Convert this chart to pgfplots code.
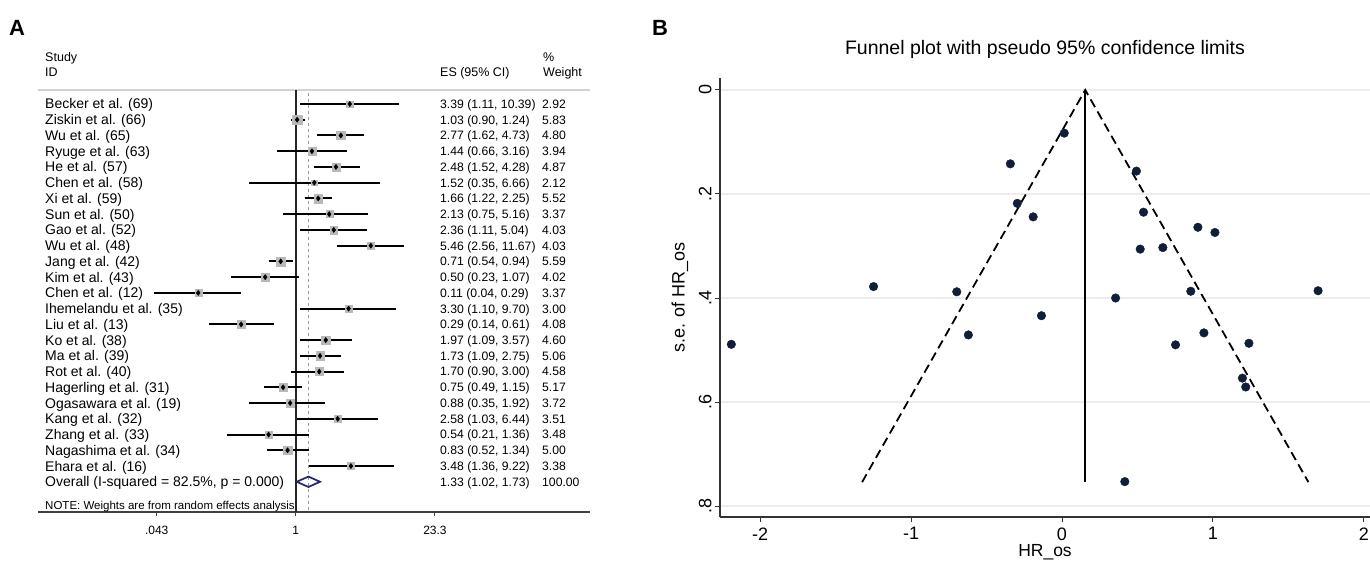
\documentclass[border=0pt]{standalone}
\usepackage{fontspec}
\setmainfont{Liberation Sans}
\usepackage{pgfplots}
\pgfplotsset{compat=1.18}
\usepackage{pgfplotstable}

\definecolor{dotnavy}{RGB}{16,30,58}
\definecolor{diam}{RGB}{35,35,110}

\newcommand\fs[1]{\fontsize{#1}{#1}\selectfont}

% forest plot: row, HR, CI, weight
\pgfplotstableread{
y hr lo hi w
25 3.39 1.11 10.39 2.92
24 1.03 0.90 1.24 5.83
23 2.77 1.62 4.73 4.80
22 1.44 0.66 3.16 3.94
21 2.48 1.52 4.28 4.87
20 1.52 0.35 6.66 2.12
19 1.66 1.22 2.25 5.52
18 2.13 0.75 5.16 3.37
17 2.36 1.11 5.04 4.03
16 5.46 2.56 11.67 4.03
15 0.71 0.54 0.94 5.59
14 0.50 0.23 1.07 4.02
13 0.11 0.04 0.29 3.37
12 3.30 1.10 9.70 3.00
11 0.29 0.14 0.61 4.08
10 1.97 1.09 3.57 4.60
9 1.73 1.09 2.75 5.06
8 1.70 0.90 3.00 4.58
7 0.75 0.49 1.15 5.17
6 0.88 0.35 1.92 3.72
5 2.58 1.03 6.44 3.51
4 0.54 0.21 1.36 3.48
3 0.83 0.52 1.34 5.00
2 3.48 1.36 9.22 3.38
}\forest

% funnel plot: log HR, s.e.
\pgfplotstableread{
es se
0.015 0.083
-0.342 0.142
0.493 0.156
-0.296 0.218
-0.191 0.244
0.540 0.235
0.900 0.264
1.013 0.274
0.518 0.306
0.668 0.303
-1.248 0.378
-0.697 0.388
0.355 0.400
0.853 0.387
1.696 0.386
-0.136 0.434
-0.620 0.471
-2.190 0.489
0.752 0.490
0.940 0.467
1.238 0.487
1.195 0.554
1.217 0.571
0.416 0.753
}\funnel

% one text row of the forest plot
\newcommand\row[4]{%
  \node[anchor=base west, inner sep=0, font=\fs{14}, yshift=-5pt] at (axis cs:0.003435,#1) {#2};
  \node[anchor=base west, inner sep=0, font=\fs{12.2}, yshift=-4.4pt] at (axis cs:26.1,#1) {#3};
  \node[anchor=base west, inner sep=0, font=\fs{12.2}, yshift=-4.4pt] at (axis cs:262.4,#1) {#4};
}

\begin{document}
\begin{tikzpicture}
\useasboundingbox (0pt,0pt) rectangle (1370pt,560pt);

\node[anchor=west, inner sep=0, font=\bfseries\fs{22}] at (9pt,532.5pt) {A};
\node[anchor=west, inner sep=0, font=\bfseries\fs{22}] at (652pt,532.5pt) {B};

% ---- panel A: forest plot
\begin{axis}[
  at={(38pt,48pt)}, anchor=south west, scale only axis,
  width=552pt, height=465pt,
  xmode=log, xmin=0.002929, xmax=777.6,
  ymin=-0.92, ymax=28.62,
  axis x line*=bottom, axis y line=none,
  x axis line style={black!75, line width=1.4pt, -},
  xtick={0.043,1,23.3}, xticklabels={.043,1,23.3}, minor xtick={},
  tick align=outside, major tick length=4pt,
  tick style={black!75, line width=1pt},
  xticklabel style={font=\fs{12}, yshift=-7pt},
  clip=false,
]
\draw[gray!35, line width=2.5pt] (axis cs:0.002929,25.89) -- (axis cs:777.6,25.89);

\node[anchor=base west, inner sep=0, font=\fs{12.5}, yshift=-4.5pt] at (axis cs:0.003435,27.99) {Study};
\node[anchor=base west, inner sep=0, font=\fs{12.5}, yshift=-4.5pt] at (axis cs:0.003435,27.03) {ID};
\node[anchor=base west, inner sep=0, font=\fs{12.5}, yshift=-4.5pt] at (axis cs:26.1,27.03) {ES (95\% CI)};
\node[anchor=base west, inner sep=0, font=\fs{12.5}, yshift=-4.5pt] at (axis cs:268.5,27.99) {\%};
\node[anchor=base west, inner sep=0, font=\fs{12.5}, yshift=-4.5pt] at (axis cs:268.5,27.03) {Weight};

\addplot[black!85, line width=1.4pt] coordinates {(1,25.89) (1,-0.92)};
\addplot[gray!80, line width=1.3pt, dash pattern=on 3pt off 3pt] coordinates {(1.33,25.7) (1.33,-0.92)};

\addplot[black, line width=2pt, unbounded coords=jump] coordinates {
(1.11,25) (10.39,25) (nan,25)
(0.90,24) (1.24,24) (nan,24)
(1.62,23) (4.73,23) (nan,23)
(0.66,22) (3.16,22) (nan,22)
(1.52,21) (4.28,21) (nan,21)
(0.35,20) (6.66,20) (nan,20)
(1.22,19) (2.25,19) (nan,19)
(0.75,18) (5.16,18) (nan,18)
(1.11,17) (5.04,17) (nan,17)
(2.56,16) (11.67,16) (nan,16)
(0.54,15) (0.94,15) (nan,15)
(0.23,14) (1.07,14) (nan,14)
(0.04,13) (0.29,13) (nan,13)
(1.10,12) (9.70,12) (nan,12)
(0.14,11) (0.61,11) (nan,11)
(1.09,10) (3.57,10) (nan,10)
(1.09,9) (2.75,9) (nan,9)
(0.90,8) (3.00,8) (nan,8)
(0.49,7) (1.15,7) (nan,7)
(0.35,6) (1.92,6) (nan,6)
(1.03,5) (6.44,5) (nan,5)
(0.21,4) (1.36,4) (nan,4)
(0.52,3) (1.34,3) (nan,3)
(1.36,2) (9.22,2)
};

\addplot[scatter, only marks, mark=square*,
  scatter/use mapped color={draw=gray!55, fill=gray!55},
  visualization depends on={1.9*sqrt(\thisrow{w}) \as \msz},
  scatter/@pre marker code/.append style={/tikz/mark size=\msz pt}]
  table[x=hr, y=y] {\forest};
\addplot[only marks, mark=diamond*, mark size=2.6pt, black] table[x=hr, y=y] {\forest};

\addplot[diam, line width=1.7pt, line join=miter] coordinates {(1.02,1) (1.33,1.33) (1.73,1) (1.33,0.67)} -- cycle;

\row{25}{Becker et al. (69)}{3.39 (1.11, 10.39)}{2.92}
\row{24}{Ziskin  et al. (66)}{1.03 (0.90, 1.24)}{5.83}
\row{23}{Wu  et al. (65)}{2.77 (1.62, 4.73)}{4.80}
\row{22}{Ryuge et al. (63)}{1.44 (0.66, 3.16)}{3.94}
\row{21}{He  et al. (57)}{2.48 (1.52, 4.28)}{4.87}
\row{20}{Chen  et al. (58)}{1.52 (0.35, 6.66)}{2.12}
\row{19}{Xi et al. (59)}{1.66 (1.22, 2.25)}{5.52}
\row{18}{Sun  et al. (50)}{2.13 (0.75, 5.16)}{3.37}
\row{17}{Gao  et al. (52)}{2.36 (1.11, 5.04)}{4.03}
\row{16}{Wu  et al. (48)}{5.46 (2.56, 11.67)}{4.03}
\row{15}{Jang et al. (42)}{0.71 (0.54, 0.94)}{5.59}
\row{14}{Kim  et al. (43)}{0.50 (0.23, 1.07)}{4.02}
\row{13}{Chen  et al. (12)}{0.11 (0.04, 0.29)}{3.37}
\row{12}{Ihemelandu et al. (35)}{3.30 (1.10, 9.70)}{3.00}
\row{11}{Liu  et al. (13)}{0.29 (0.14, 0.61)}{4.08}
\row{10}{Ko et al. (38)}{1.97 (1.09, 3.57)}{4.60}
\row{9}{Ma et al. (39)}{1.73 (1.09, 2.75)}{5.06}
\row{8}{Rot  et al. (40)}{1.70 (0.90, 3.00)}{4.58}
\row{7}{Hagerling et al. (31)}{0.75 (0.49, 1.15)}{5.17}
\row{6}{Ogasawara et al. (19)}{0.88 (0.35, 1.92)}{3.72}
\row{5}{Kang  et al. (32)}{2.58 (1.03, 6.44)}{3.51}
\row{4}{Zhang  et al. (33)}{0.54 (0.21, 1.36)}{3.48}
\row{3}{Nagashima et al. (34)}{0.83 (0.52, 1.34)}{5.00}
\row{2}{Ehara  et al. (16)}{3.48 (1.36, 9.22)}{3.38}
\row{1}{Overall  (I-squared = 82.5\%, p = 0.000)}{1.33 (1.02, 1.73)}{100.00}

\node[anchor=base west, inner sep=0, font=\fs{11.5}, yshift=-4.2pt] at (axis cs:0.003435,-0.48) {NOTE: Weights are from random effects analysis};
\end{axis}

% ---- panel B: funnel plot
\begin{axis}[
  at={(720pt,43pt)}, anchor=south west, scale only axis,
  width=650pt, height=439pt,
  xmin=-2.265, xmax=2.04, ymin=-0.821, ymax=0.023,
  axis x line*=bottom, axis y line*=left,
  axis line style={black!80, line width=1.3pt, -},
  xtick={-2,-1,0,1,2}, xticklabels={-2,-1,0,1,2},
  ytick={0,-0.2,-0.4,-0.6,-0.8}, yticklabels={0,.2,.4,.6,.8},
  ymajorgrids, grid style={gray!14, line width=2.5pt},
  tick align=outside, major tick length=5pt,
  tick style={black!80, line width=1pt},
  ticklabel style={font=\fs{18}},
  xticklabel style={yshift=-2pt},
  yticklabel style={rotate=90, anchor=south},
  clip=false,
]
\addplot[black, line width=1.8pt] coordinates {(0.154,0) (0.154,-0.754)};
\addplot[black, line width=1.8pt, dash pattern=on 9pt off 5pt] coordinates {(-1.324,-0.754) (0.154,0) (1.632,-0.754)};
\addplot[only marks, mark=*, mark size=4.3pt, dotnavy] table[x=es, y expr=-\thisrow{se}] {\funnel};
\end{axis}

\node[anchor=base, font=\fs{19.5}] at (1045pt,505pt) {Funnel plot with pseudo 95\% confidence limits};
\node[rotate=90, font=\fs{18}] at (680pt,262.5pt) {s.e. of HR\_os};
\node[anchor=base, font=\fs{17.5}, inner sep=0] at (1045pt,3.5pt) {HR\_os};
\end{tikzpicture}
\end{document}
